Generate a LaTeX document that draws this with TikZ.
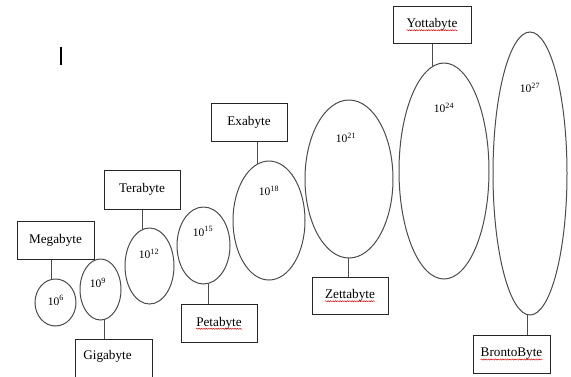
\documentclass[tikz,border=0pt]{standalone}
\usepackage{fontspec}
\setmainfont{Liberation Serif}
\usetikzlibrary{shapes.geometric,decorations.pathmorphing}

\tikzset{
  unitbox/.style={draw=black!85, line width=1pt, rectangle, inner sep=0pt,
    font=\fontsize{13.2}{15}\selectfont},
  sizeoval/.style={draw=black!70, line width=1pt, ellipse, inner sep=0pt},
  power/.style={inner sep=0pt, font=\fontsize{11.5}{13}\selectfont},
  link/.style={draw=black!70, line width=1pt},
  spellmark/.style={draw=red!85!black, line width=0.45pt,
    decorate, decoration={snake, amplitude=0.6pt, segment length=2.4pt}},
}
\newcommand{\tenpow}[1]{10\textsuperscript{#1}}

\begin{document}
\begin{tikzpicture}[x=1pt, y=-1pt]
  \clip (0,0) rectangle (571,376);
  \fill[white] (0,0) rectangle (571,376);

  % text cursor
  \draw[line width=1.2pt] (61,47) -- (61,65);

  % unit boxes
  \node[unitbox, minimum width=77pt, minimum height=38pt] (mega)   at (55.5,240)  {Megabyte};
  \node[unitbox, minimum width=77pt, minimum height=60pt, anchor=north] (giga) at (113.5,339) {};
  \node[inner sep=0pt, font=\fontsize{13.2}{15}\selectfont] (gigatext) at (107.5,356) {Gigabyte};
  \node[unitbox, minimum width=76pt, minimum height=39pt] (tera)   at (142,189.5) {Terabyte};
  \node[unitbox, minimum width=76pt, minimum height=38pt] (peta)   at (219,323)   {Petabyte};
  \node[unitbox, minimum width=76pt, minimum height=38pt] (exa)    at (249,122)   {Exabyte};
  \node[unitbox, minimum width=76pt, minimum height=37pt] (zetta)  at (350,295.5) {Zettabyte};
  \node[unitbox, minimum width=78pt, minimum height=37pt] (yotta)  at (432,24.5)  {Yottabyte};
  \node[unitbox, minimum width=77pt, minimum height=38pt] (bronto) at (511.5,354) {BrontoByte};

  % growing ovals
  \node[sizeoval, minimum width=41pt, minimum height=47pt]  (e6)  at (55.5,302.5) {};
  \node[sizeoval, minimum width=41pt, minimum height=61pt]  (e9)  at (100.5,289.5) {};
  \node[sizeoval, minimum width=49pt, minimum height=76pt]  (e12) at (149.5,266) {};
  \node[sizeoval, minimum width=53pt, minimum height=77pt]  (e15) at (203.5,245.5) {};
  \node[sizeoval, minimum width=72pt, minimum height=119pt] (e18) at (269,220.5) {};
  \node[sizeoval, minimum width=88pt, minimum height=158pt] (e21) at (349,179) {};
  \node[sizeoval, minimum width=90pt, minimum height=216pt] (e24) at (444,171) {};
  \node[sizeoval, minimum width=74pt, minimum height=283pt] (e27) at (530,173.5) {};

  % powers of ten
  \node[power] (p6)  at (56,300.5) {\tenpow{6}};
  \node[power] (p9)  at (98,283)   {\tenpow{9}};
  \node[power] (p12) at (149,254)  {\tenpow{12}};
  \node[power] (p15) at (203,231.5) {\tenpow{15}};
  \node[power] (p18) at (269,191)  {\tenpow{18}};
  \node[power] (p21) at (346,138)  {\tenpow{21}};
  \node[power] (p24) at (444,108)  {\tenpow{24}};
  \node[power] (p27) at (530,88)   {\tenpow{27}};

  % connectors between boxes and ovals
  \draw[link] ([xshift=-4.5pt]mega.south) -- ([xshift=-4.5pt]mega.south |- e6.101);
  \draw[link] (e9.277) -- (e9.277 |- giga.north);
  \draw[link] (tera.south) -- (tera.south |- e12.102);
  \draw[link] (e15.278) -- (e15.278 |- peta.north);
  \draw[link] ([xshift=8pt]exa.south) -- ([xshift=8pt]exa.south |- e18.102);
  \draw[link] ([xshift=-2pt]zetta.north |- e21.269) -- ([xshift=-2pt]zetta.north);
  \draw[link] (yotta.south) -- (yotta.south |- e24.96);
  \draw[link] (e27.269) -- (e27.269 |- bronto.north);

  % spelling marks under the words
  \draw[spellmark] ([xshift=-23pt,yshift=-2.6pt]peta.base)   -- ([xshift=23pt,yshift=-2.6pt]peta.base);
  \draw[spellmark] ([xshift=-25pt,yshift=-2.6pt]zetta.base)  -- ([xshift=25pt,yshift=-2.6pt]zetta.base);
  \draw[spellmark] ([xshift=-25.5pt,yshift=-2.6pt]yotta.base) -- ([xshift=25.5pt,yshift=-2.6pt]yotta.base);
  \draw[spellmark] ([xshift=-31pt,yshift=-2.6pt]bronto.base) -- ([xshift=31pt,yshift=-2.6pt]bronto.base);
\end{tikzpicture}
\end{document}
